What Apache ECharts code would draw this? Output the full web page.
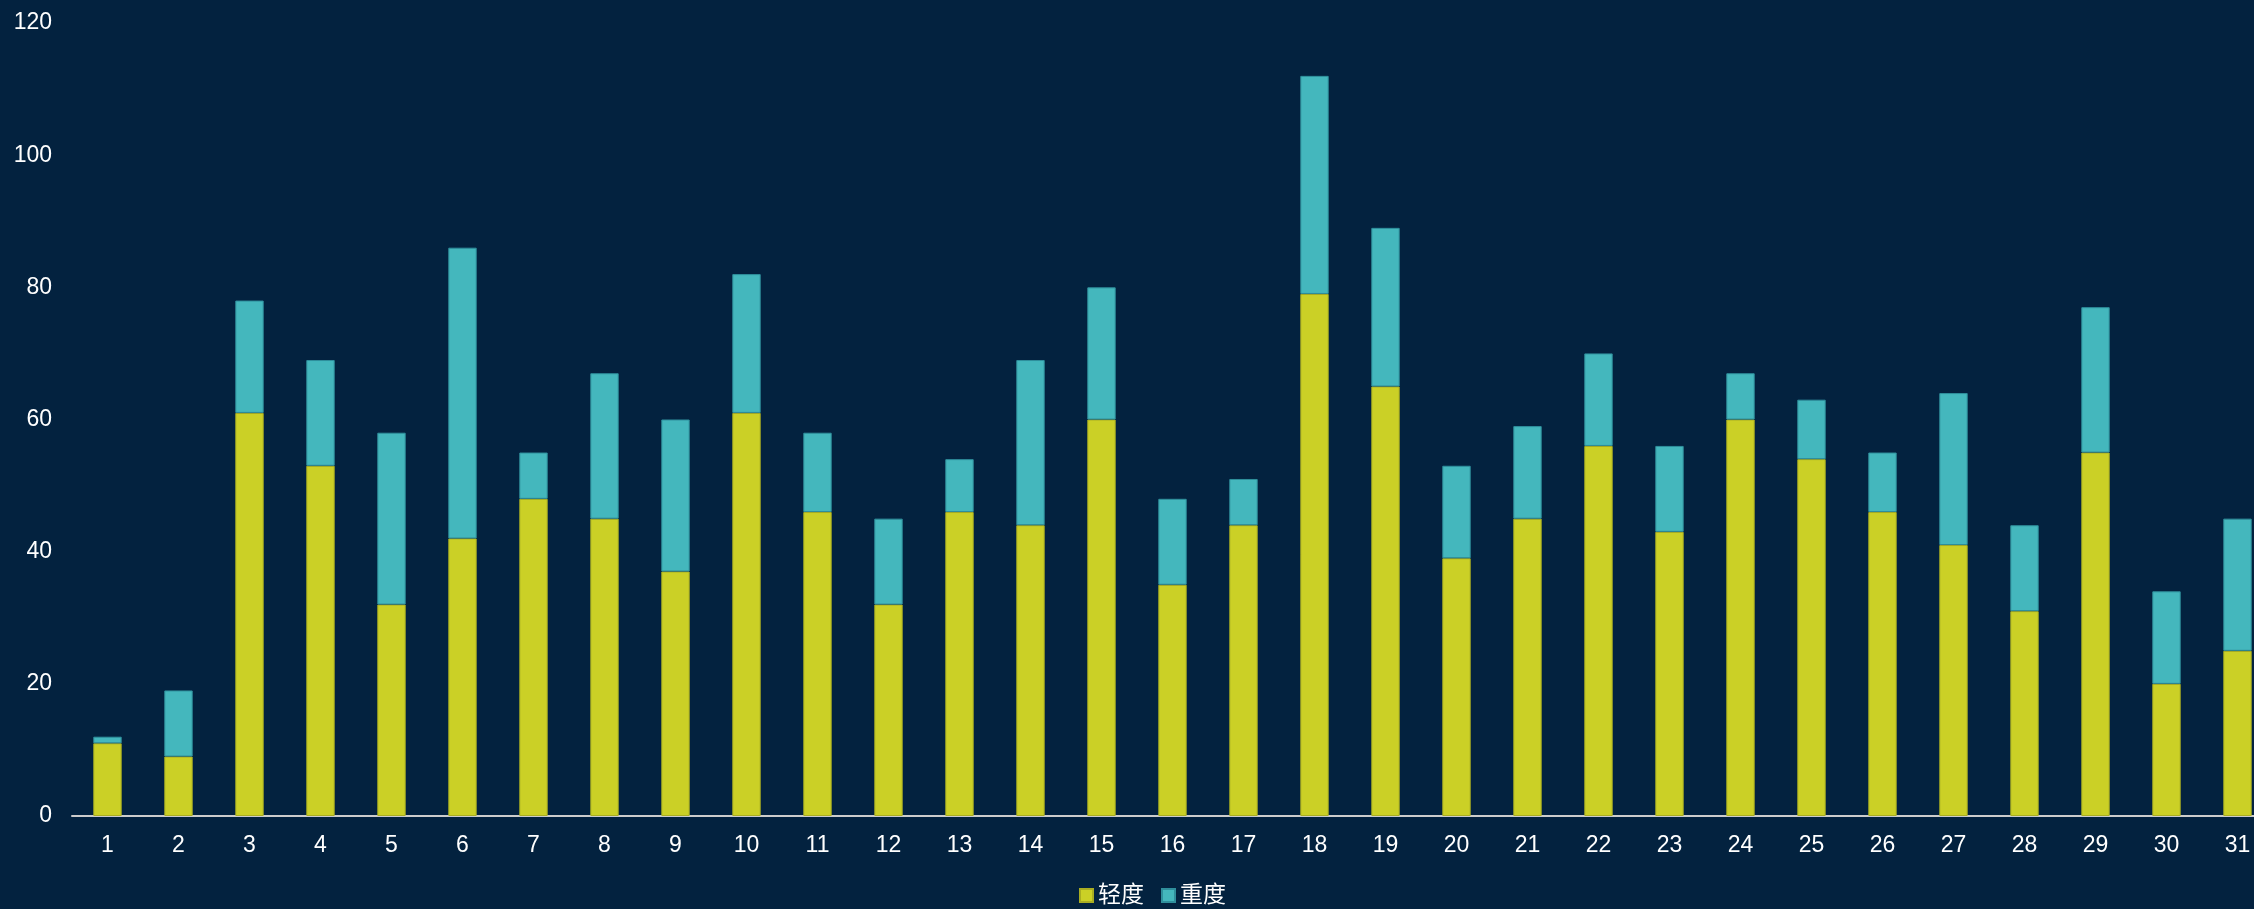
<!DOCTYPE html>
<html lang="zh">
<head>
  <meta charset="UTF-8">
  <meta name="viewport" content="width=device-width, initial-scale=1.0">
  <title>轻度 / 重度</title>
  <script type="text/javascript" src="https://fastly.jsdelivr.net/npm/echarts@6/dist/echarts.min.js"></script>
  <style>
    html, body, #container {
      width: 100%;
      height: 100%;
      margin: 0;
      padding: 0;
      overflow: hidden;
      background: #03223f;
    }
  </style>
</head>
<body>
  <div id="container"></div>

  <script type="text/javascript">
    var days = [];
    for (var d = 1; d <= 31; d++) days.push(String(d));

    var light = [11, 9, 61, 53, 32, 42, 48, 45, 37, 61, 46, 32, 46, 44, 60, 35, 44, 79, 65, 39, 45, 56, 43, 60, 54, 46, 41, 31, 55, 20, 25];
    var heavy = [1, 10, 17, 16, 26, 44, 7, 22, 23, 21, 12, 13, 8, 25, 20, 13, 7, 33, 24, 14, 14, 14, 13, 7, 9, 9, 23, 13, 22, 14, 20];

    var font = 'Liberation Sans, Arial, Noto Sans CJK SC, sans-serif';

    var myChart = echarts.init(document.getElementById('container'), null, { renderer: 'canvas' });
    myChart.setOption({
      backgroundColor: '#03223f',
      textStyle: { fontFamily: font },
      // the plot runs a little past the right edge of the window
      grid: { left: 72, right: -19, top: 23, bottom: 93, containLabel: false, outerBoundsMode: 'none' },
      legend: {
        top: 879,
        left: 1074,
        itemWidth: 13,
        itemHeight: 13,
        itemGap: 17,
        icon: 'rect',
        textStyle: { color: '#ffffff', fontSize: 23, fontFamily: font },
        data: ['轻度', '重度']
      },
      xAxis: {
        type: 'category',
        data: days,
        axisLine: { lineStyle: { color: '#cccccc', width: 2 } },
        axisTick: { show: false },
        axisLabel: { color: '#ffffff', fontSize: 23, margin: 18, interval: 0 }
      },
      yAxis: {
        type: 'value',
        min: 0,
        max: 120,
        interval: 20,
        axisLine: { show: false },
        axisTick: { show: false },
        splitLine: { show: false },
        axisLabel: { color: '#ffffff', fontSize: 23, margin: 20 }
      },
      series: [
        {
          name: '轻度',
          type: 'bar',
          stack: 'total',
          barWidth: '40%',
          data: light,
          itemStyle: { color: '#cbd026', borderColor: '#a9ad22', borderWidth: 1 }
        },
        {
          name: '重度',
          type: 'bar',
          stack: 'total',
          data: heavy,
          itemStyle: { color: '#44b7bd', borderColor: '#2f8f9c', borderWidth: 1 }
        }
      ]
    });
  </script>
</body>
</html>
